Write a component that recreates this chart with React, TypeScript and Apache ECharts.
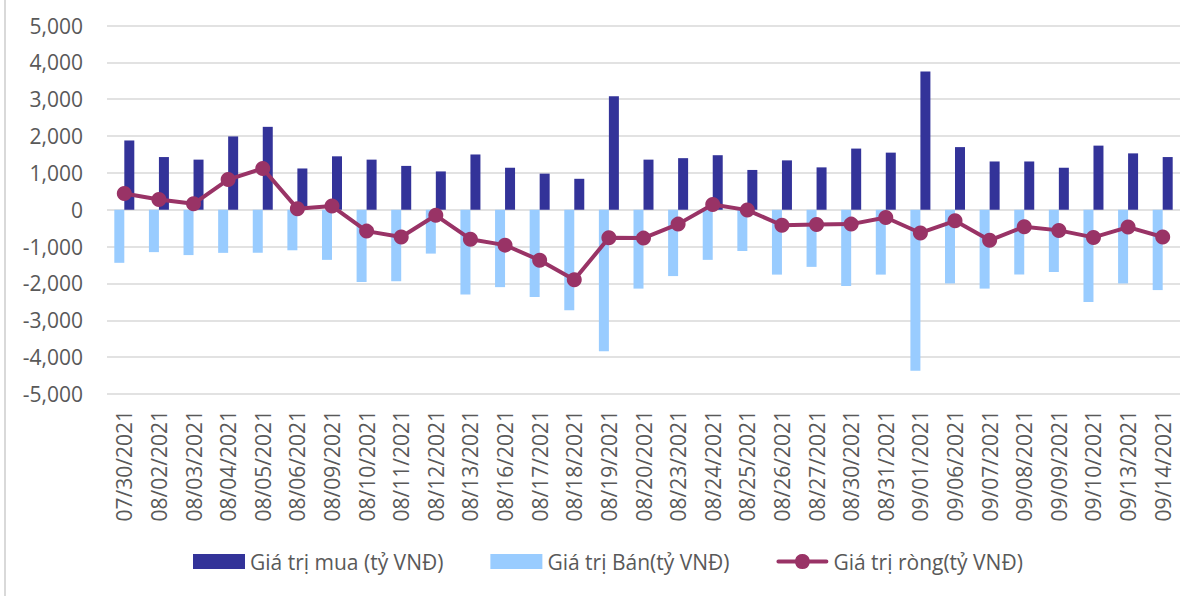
import React, { useEffect, useRef } from "react";
import * as echarts from "echarts";

const categories = [
  "07/30/2021", "08/02/2021", "08/03/2021", "08/04/2021", "08/05/2021", "08/06/2021",
  "08/09/2021", "08/10/2021", "08/11/2021", "08/12/2021", "08/13/2021", "08/16/2021",
  "08/17/2021", "08/18/2021", "08/19/2021", "08/20/2021", "08/23/2021", "08/24/2021",
  "08/25/2021", "08/26/2021", "08/27/2021", "08/30/2021", "08/31/2021", "09/01/2021",
  "09/06/2021", "09/07/2021", "09/08/2021", "09/09/2021", "09/10/2021", "09/13/2021",
  "09/14/2021",
];

const buyValues = [
  1880, 1430, 1360, 1990, 2250, 1120, 1450, 1360, 1190, 1040, 1500, 1140, 980, 840,
  3080, 1360, 1400, 1480, 1080, 1340, 1150, 1660, 1550, 3750, 1700, 1310, 1310, 1140,
  1740, 1530, 1430,
];

const sellValues = [
  -1440, -1150, -1230, -1170, -1170, -1100, -1360, -1960, -1940, -1190, -2300, -2100,
  -2370, -2730, -3840, -2140, -1800, -1360, -1120, -1760, -1550, -2070, -1760, -4370,
  -2000, -2140, -1760, -1690, -2500, -2000, -2180,
];

const netValues = [
  440, 280, 160, 820, 1120, 30, 100, -580, -740, -150, -800, -960, -1370, -1900, -760,
  -770, -390, 140, -10, -420, -400, -390, -210, -630, -300, -830, -460, -560, -750,
  -470, -740,
];

const seriesNames = [
  "Giá trị mua (tỷ VNĐ)",
  "Giá trị Bán(tỷ VNĐ)",
  "Giá trị ròng(tỷ VNĐ)",
];

const FONT = "'Open Sans', 'Noto Sans', sans-serif";
const TEXT_COLOR = "#595959";
const LINE_ICON =
  "path://M2,5.5H18.77A7.5,7.5 0 0,1 33.23,5.5H50A2,2 0 0,1 50,9.5H33.23A7.5,7.5 0 0,1 18.77,9.5H2A2,2 0 0,1 2,5.5Z";

export default function App() {
  const ref = useRef<HTMLDivElement>(null);

  useEffect(() => {
    document.body.style.margin = "0";
    if (!ref.current) return;
    const chart = echarts.init(ref.current, null, { renderer: "svg" });
    chart.setOption({
      animation: false,
      backgroundColor: "#ffffff",
      textStyle: { fontFamily: FONT },
      graphic: [
        {
          type: "rect",
          shape: { x: 4, y: -2, width: 2, height: 600 },
          style: { fill: "#d9d9d9" },
          silent: true,
        },
      ],
      grid: { left: 107, right: 23, top: 25.5, bottom: 202, containLabel: false },
      legend: {
        data: [
          { name: seriesNames[0], icon: "rect" },
          { name: seriesNames[1], icon: "rect" },
          { name: seriesNames[2], icon: LINE_ICON },
        ],
        left: 193,
        top: 551,
        padding: 0,
        itemWidth: 52,
        itemHeight: 15,
        itemGap: 47,
        textStyle: { color: TEXT_COLOR, fontSize: 21, fontFamily: FONT },
      },
      xAxis: {
        type: "category",
        data: categories,
        position: "bottom",
        axisLine: { show: false, onZero: false },
        axisTick: { show: false },
        axisLabel: {
          rotate: 90,
          interval: 0,
          margin: 16,
          color: TEXT_COLOR,
          fontSize: 21,
          fontFamily: FONT,
        },
      },
      yAxis: {
        type: "value",
        min: -5000,
        max: 5000,
        interval: 1000,
        axisLine: { show: false },
        axisTick: { show: false },
        splitLine: { lineStyle: { color: "#d9d9d9", width: 1.5 } },
        axisLabel: {
          margin: 24,
          color: TEXT_COLOR,
          fontSize: 21,
          fontFamily: FONT,
          formatter: (v: number) => v.toLocaleString("en-US"),
        },
      },
      series: [
        {
          name: seriesNames[1],
          type: "bar",
          data: sellValues,
          barWidth: 10,
          barGap: "0%",
          itemStyle: { color: "#99ccff" },
        },
        {
          name: seriesNames[0],
          type: "bar",
          data: buyValues,
          barWidth: 10,
          barGap: "0%",
          itemStyle: { color: "#333399" },
        },
        {
          name: seriesNames[2],
          type: "line",
          data: netValues,
          symbol: "circle",
          symbolSize: 15,
          z: 5,
          lineStyle: { color: "#993366", width: 4 },
          itemStyle: { color: "#993366" },
        },
      ],
    });
    return () => chart.dispose();
  }, []);

  return <div ref={ref} style={{ width: 1203, height: 596 }} />;
}
